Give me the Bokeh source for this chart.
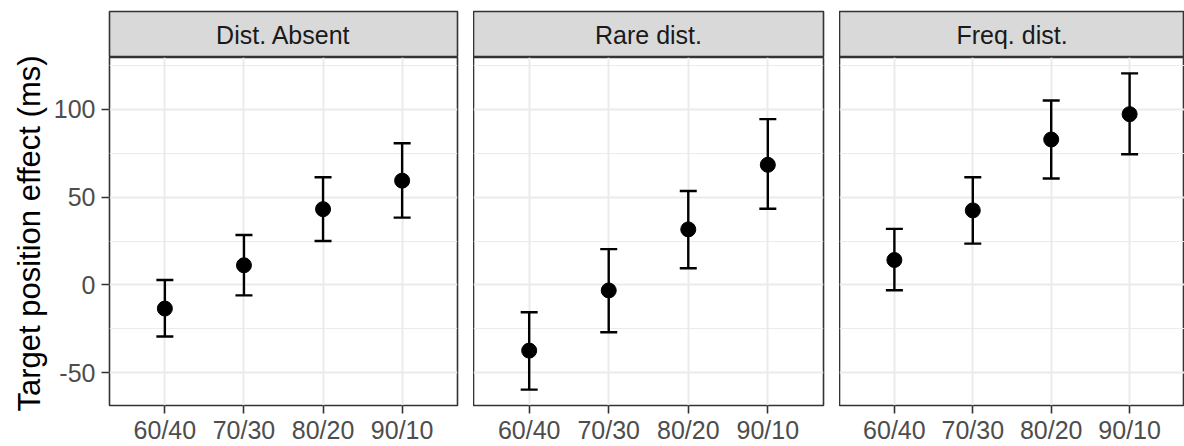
import math
from bokeh.plotting import figure
from bokeh.layouts import row, column
from bokeh.models import ColumnDataSource, FactorRange, Range1d, FixedTicker, Whisker, TeeHead
from bokeh.core.properties import value
from bokeh.embed import file_html
from bokeh.resources import INLINE

# ---- data ----
categories = ["60/40", "70/30", "80/20", "90/10"]
panels = ["Dist. Absent", "Rare dist.", "Freq. dist."]
means = {
    "Dist. Absent": [-13.4, 11.2, 43.1, 59.3],
    "Rare dist.": [-37.3, -3.1, 31.6, 68.3],
    "Freq. dist.": [14.2, 42.4, 82.7, 97.1],
}
upper = {
    "Dist. Absent": [2.8, 28.4, 61.2, 80.6],
    "Rare dist.": [-15.5, 20.4, 53.4, 94.3],
    "Freq. dist.": [31.9, 61.2, 104.9, 120.3],
}
lower = {
    "Dist. Absent": [-29.3, -5.9, 25.0, 38.3],
    "Rare dist.": [-59.5, -26.9, 9.5, 43.3],
    "Freq. dist.": [-3.0, 23.5, 60.5, 74.3],
}
y_ticks = [-50, 0, 50, 100]
y_tick_labels = ["-50", "0", "50", "100"]
y_minor = [-75, -25, 25, 75, 125]
y_title = "Target position effect (ms)"

FONT = "Liberation Sans"
GRID = "#ebebeb"
BORDER = "#333333"

H = 446
title_w = 50
left_margin = 107 - title_w
gap = 16
frame_w = 350
w1 = left_margin + frame_w + gap
w2 = frame_w + gap
w3 = 1184 - title_w - w1 - w2
widths = [w1, w2, w3]
lefts = [left_margin, 0, 0]
rights = [gap, gap, 0]

# y-axis title column (spans strip + panel heights)
t = figure(width=title_w, height=H, x_range=Range1d(0, title_w), y_range=Range1d(0, H),
           x_axis_location=None, y_axis_location=None, toolbar_location=None,
           output_backend="svg", min_border=0)
t.grid.visible = False
t.outline_line_color = None
t.background_fill_color = "white"
t.border_fill_color = "white"
t.text(x=[29], y=[H - 233], text=[y_title], angle=math.pi / 2, text_align="center",
       text_baseline="middle", text_font=value(FONT), text_font_size="31px", text_color="black")

cols = [t]
for i, name in enumerate(panels):
    # strip
    s = figure(width=widths[i], height=57, x_range=Range1d(0, 1), y_range=Range1d(0, 1),
               x_axis_location=None, y_axis_location=None, toolbar_location=None,
               output_backend="svg", min_border_left=lefts[i], min_border_right=rights[i],
               min_border_top=11, min_border_bottom=0)
    s.grid.visible = False
    s.background_fill_color = "#d9d9d9"
    s.border_fill_color = "white"
    s.outline_line_color = BORDER
    s.outline_line_width = 1.6
    s.text(x=[0.5], y=[0.5], text=[name], text_align="center", text_baseline="middle",
           text_font=value(FONT), text_font_size="25px", text_color="#1a1a1a")

    # panel
    p = figure(width=widths[i], height=H - 57,
               x_range=FactorRange(factors=categories, range_padding=0.2, range_padding_units="absolute"),
               y_range=Range1d(-68.5, 129.3),
               y_axis_location="left" if i == 0 else None,
               toolbar_location=None, output_backend="svg",
               min_border_left=lefts[i], min_border_right=rights[i],
               min_border_top=0, min_border_bottom=37)
    p.background_fill_color = "white"
    p.border_fill_color = "white"
    p.outline_line_color = BORDER
    p.outline_line_width = 1.6

    ticker = FixedTicker(ticks=y_ticks, minor_ticks=y_minor)
    p.ygrid.ticker = ticker
    p.ygrid.grid_line_color = GRID
    p.ygrid.grid_line_width = 2
    p.ygrid.minor_grid_line_color = GRID
    p.ygrid.minor_grid_line_width = 1.2
    p.xgrid.grid_line_color = GRID
    p.xgrid.grid_line_width = 2

    for ax in [p.xaxis[0]] + ([p.yaxis[0]] if i == 0 else []):
        ax.axis_line_color = None
        ax.major_tick_line_color = BORDER
        ax.major_tick_line_width = 1.6
        ax.major_tick_out = 8
        ax.major_tick_in = 0
        ax.minor_tick_line_color = None
        ax.major_label_text_font = FONT
        ax.major_label_text_font_size = "25px"
        ax.major_label_text_color = "#4d4d4d"
        ax.major_label_standoff = 2
    if i == 0:
        p.yaxis[0].ticker = ticker
        p.yaxis[0].major_label_overrides = {tk: lab for tk, lab in zip(y_ticks, y_tick_labels)}
        p.yaxis[0].major_label_standoff = 6

    src = ColumnDataSource(dict(x=categories, y=means[name], upper=upper[name], lower=lower[name]))
    w = Whisker(base="x", upper="upper", lower="lower", source=src, dimension="height",
                line_color="black", line_width=2.4,
                upper_head=TeeHead(size=17, line_color="black", line_width=2.4),
                lower_head=TeeHead(size=17, line_color="black", line_width=2.4))
    p.add_layout(w)
    p.scatter(x="x", y="y", source=src, size=15, color="black")

    cols.append(column(s, p, spacing=0))

layout = row(*cols, spacing=0)
open("out.html", "w").write(file_html(layout, INLINE))
